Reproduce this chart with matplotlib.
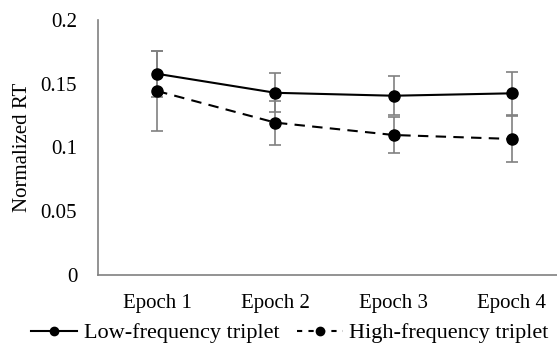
import matplotlib
matplotlib.use("Agg")
import matplotlib.pyplot as plt
from matplotlib.lines import Line2D

categories = ["Epoch 1", "Epoch 2", "Epoch 3", "Epoch 4"]
low_freq = [0.1578, 0.1429, 0.1406, 0.1425]
low_err = [0.0180, 0.0153, 0.0152, 0.0170]
high_freq = [0.1443, 0.1195, 0.1098, 0.1067]
high_err = [0.0310, 0.0173, 0.0139, 0.0178]
yticks = [0, 0.05, 0.1, 0.15, 0.2]
ytick_labels = ["0", "0.05", "0.1", "0.15", "0.2"]

plt.rcParams["font.family"] = ["Liberation Serif", "DejaVu Serif"]

fig = plt.figure(figsize=(5.57, 3.49), dpi=100)
W, H = 557, 349
ax = fig.add_axes([98 / W, 1 - 275 / H, (557 - 98) / W, (275 - 20) / H])

x = list(range(len(categories)))
ax.errorbar(x, low_freq, yerr=low_err, fmt="none", ecolor="#808080",
            elinewidth=1.2, capsize=4.5, capthick=1.2, zorder=2)
ax.errorbar(x, high_freq, yerr=high_err, fmt="none", ecolor="#808080",
            elinewidth=1.2, capsize=4.5, capthick=1.2, zorder=2)
ax.plot(x, low_freq, color="black", lw=1.5, ls="-", marker="o",
        markersize=8, zorder=3)
ax.plot(x, high_freq, color="black", lw=1.5, ls=(0, (5, 3.5)), marker="o",
        markersize=8, zorder=3)

ax.set_xlim(-0.5, 3.5 - 14 / 118)
ax.set_ylim(0, 0.2)
ax.set_yticks(yticks)
ax.set_yticklabels(ytick_labels)
ax.set_xticks(x)
ax.set_xticklabels(categories)
ax.tick_params(axis="both", length=0, labelsize=15, colors="black")
ax.tick_params(axis="x", pad=14)
ax.tick_params(axis="y", pad=15)

for s in ["top", "right"]:
    ax.spines[s].set_visible(False)
for s in ["left", "bottom"]:
    ax.spines[s].set_color("#808080")
    ax.spines[s].set_linewidth(1.2)

ax.set_ylabel("Normalized RT", fontsize=15)
ax.yaxis.set_label_coords(-66 / (557 - 98), 0.5)

handles = [
    Line2D([], [], color="black", lw=1.5, ls="-", marker="o", markersize=6),
    Line2D([], [], color="black", lw=1.5, ls=(0, (2.5, 3)), marker="o", markersize=6),
]
fig.legend(handles, ["Low-frequency triplet", "High-frequency triplet"],
           loc="center", bbox_to_anchor=(290 / W, 1 - 333 / H), ncol=2,
           frameon=False, fontsize=16, handlelength=2.07, handletextpad=0.3,
           columnspacing=0.77, borderaxespad=0, borderpad=0)

fig.savefig("out.png", dpi=100)
